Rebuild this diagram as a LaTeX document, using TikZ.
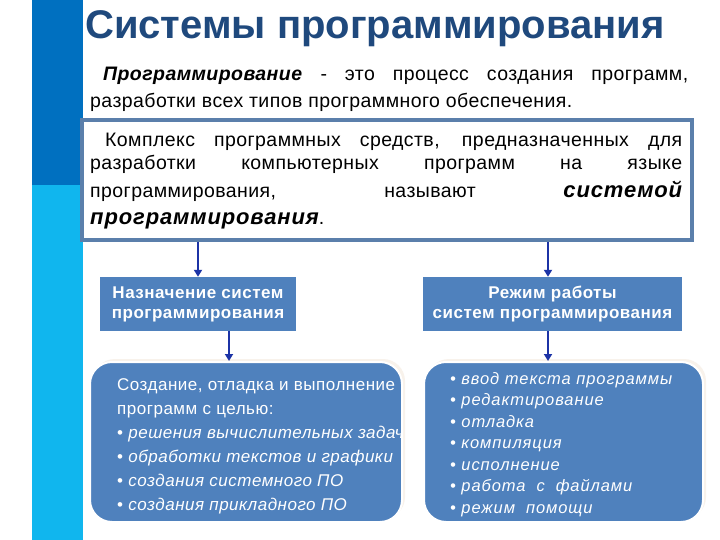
\documentclass[tikz,border=0pt]{standalone}
\usepackage{fontspec}
\setmainfont{Liberation Sans}
\usetikzlibrary{arrows.meta,shadows}
\definecolor{barDark}{HTML}{0070C0}
\definecolor{barLight}{HTML}{10B6EE}
\definecolor{titleBlue}{HTML}{1F497D}
\definecolor{boxBlue}{HTML}{4F81BD}
\definecolor{frameBlue}{HTML}{5B7FAB}
\definecolor{arrowBlue}{HTML}{1C33A6}
\newcommand\parafont{\fontsize{19.5}{24}\selectfont\addfontfeature{LetterSpace=2.2}}
\newcommand\bigbi{\fontsize{22}{26}\selectfont\addfontfeature{LetterSpace=4}\bfseries\itshape}
\newcommand\headfont{\fontsize{17}{20}\selectfont\addfontfeature{LetterSpace=3}\bfseries}
\newcommand\lfont{\fontsize{17}{20}\selectfont\addfontfeature{LetterSpace=3}}
\newcommand\rfont{\fontsize{16.5}{20}\selectfont\addfontfeature{LetterSpace=5.5}\itshape}
\tikzset{
  txt/.style={inner sep=0pt, anchor=base west, text=black},
  headbox/.style={fill=boxBlue, text=white, font=\headfont, align=center, inner sep=0pt},
  listbox/.style={fill=boxBlue, rounded corners=22pt, draw=white, line width=2pt,
     drop shadow={opacity=0.25, shadow xshift=3pt, shadow yshift=3pt, fill=brown!40}},
  arr/.style={draw=arrowBlue, line width=2.6pt, -{Triangle[width=8pt,length=7pt]}},
  wtxt/.style={inner sep=0pt, anchor=base west, text=white}
}
\begin{document}
\begin{tikzpicture}[x=1pt,y=-1pt]
\useasboundingbox (0,0) rectangle (720,540);
\fill[white] (0,0) rectangle (720,540);
% side bar
\fill[barDark] (32,0) rectangle (83,185);
\fill[barLight] (32,185) rectangle (83,540);
% title
\node[inner sep=0pt, anchor=base west, text=titleBlue, font=\fontsize{40}{44}\selectfont\bfseries] (title) at (85,39) {Системы программирования};
% paragraph
\node[txt, font=\parafont] (p1) at (103,81) {\makebox[585pt][s]{\textbf{\textit{Программирование}} - это процесс создания программ,}};
\node[txt, font=\parafont] (p2) at (90,108) {разработки всех типов программного обеспечения.};
% frame
\draw[frameBlue, line width=4.5pt, fill=white] (82,120) rectangle (692,240);
\node[inner sep=0pt] (frame) at (387,180) {};
\coordinate (frameS) at (387,242);
\node[txt, font=\parafont] (b1) at (105,147) {\makebox[577pt][s]{Комплекс программных средств, предназначенных для}};
\node[txt, font=\parafont] (b2) at (90,170) {\makebox[592pt][s]{разработки компьютерных программ на языке}};
\node[txt, font=\parafont] (b3) at (90,197) {\makebox[592pt][s]{программирования, называют {\bigbi системой}}};
\node[txt, font=\parafont] (b4) at (90,225) {{\bigbi программирования}.};
% head boxes
\node[headbox, minimum width=196pt, minimum height=54pt] (nazn) at (198,304) {Назначение систем\\программирования};
\node[headbox, minimum width=259pt, minimum height=54pt] (rezh) at (552.5,304) {Режим работы\\систем программирования};
% list boxes
\node[listbox, minimum width=312pt, minimum height=160pt, inner sep=0pt] (lbox) at (246,442) {};
\node[listbox, minimum width=279pt, minimum height=160pt, inner sep=0pt] (rbox) at (563.5,442) {};
\begin{scope}
\clip[rounded corners=22pt] (90,362) rectangle (402,522);
\node[wtxt, font=\lfont, align=left, anchor=north west] (ltxt) at (117,378) {%
\begin{minipage}[t]{400pt}\baselineskip=24pt
Создание, отладка и выполнение\\
программ с целью:\\
\textbullet{} \textit{решения вычислительных задач}\\
\textbullet{} \textit{обработки текстов и графики}\\
\textbullet{} \textit{создания системного ПО}\\
\textbullet{} \textit{создания прикладного ПО}
\end{minipage}};
\end{scope}
\node[wtxt, font=\rfont, align=left, anchor=north west] (rtxt) at (450,372) {%
\begin{minipage}[t]{260pt}\baselineskip=21.5pt
\textbullet{} ввод текста программы\\
\textbullet{} редактирование\\
\textbullet{} отладка\\
\textbullet{} компиляция\\
\textbullet{} исполнение\\
\textbullet{} работа\ \ с\ \ файлами\\
\textbullet{} режим\ \ помощи
\end{minipage}};
% arrows
\draw[arr] (nazn.north |- frameS) -- (nazn.north);
\draw[arr] (548,242) -- (rezh.north -| 548,0);
\coordinate (la) at (229,331);
\coordinate (ra) at (548,331);
\draw[arr] (la) -- (la |- lbox.north);
\draw[arr] (ra) -- (ra |- rbox.north);
\end{tikzpicture}
\end{document}
